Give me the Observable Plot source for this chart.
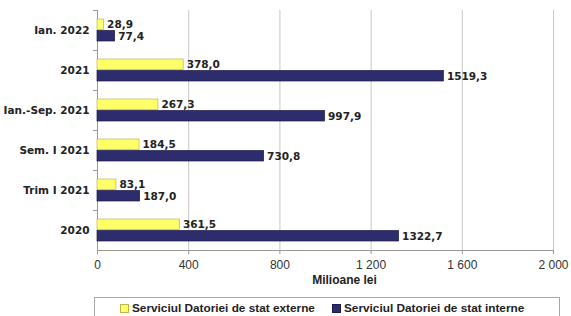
<!DOCTYPE html>
<html>
<head>
<meta charset="utf-8">
<script src="https://cdn.jsdelivr.net/npm/d3@7"></script>
<script src="https://cdn.jsdelivr.net/npm/@observablehq/plot@0.6"></script>
<style>
  body { margin: 0; background: #fff; font-family: "DejaVu Sans", sans-serif; }
  #wrap { position: relative; width: 571px; height: 316px; overflow: hidden; }
  #legend { position: absolute; left: 94px; top: 297px; width: 466px; height: 26px; border: 1px solid #a8a8a8; box-sizing: border-box; font: bold 11.8px "Liberation Sans", Arial, sans-serif; color: #222; }
  #legend .item { position: absolute; top: 3px; display: flex; align-items: center; white-space: nowrap; }
  #legend .sw { width: 7px; height: 7px; margin-right: 3px; display: inline-block; }
</style>
</head>
<body>
<div id="wrap">
  <div id="chart"></div>
  <div id="legend"></div>
</div>
<script>
const categories = ["Ian. 2022", "2021", "Ian.-Sep. 2021", "Sem. I 2021", "Trim I 2021", "2020"];
const externe = [28.9, 378.0, 267.3, 184.5, 83.1, 361.5];
const interne = [77.4, 1519.3, 997.9, 730.8, 187.0, 1322.7];
const seriesNames = ["Serviciul Datoriei de stat externe", "Serviciul Datoriei de stat interne"];
const seriesColors = ["#ffff6a", "#2d2c6c"];
const seriesStrokes = ["#b8b84a", "#1c1b4a"];
const xTicks = [0, 400, 800, 1200, 1600, 2000];

const ext = categories.map((c, i) => ({cat: c, v: externe[i]}));
const int = categories.map((c, i) => ({cat: c, v: interne[i]}));
const fmtVal = v => v.toFixed(1).replace(".", ",");
const fmtTick = v => v >= 1000 ? String(v).replace(/(\d)(\d{3})$/, "$1 $2") : String(v);

const chart = Plot.plot({
  width: 571,
  height: 292,
  marginLeft: 97,
  marginRight: 18,
  marginTop: 10,
  marginBottom: 42,
  style: {fontFamily: "DejaVu Sans, sans-serif", fontSize: "10px", color: "#222"},
  x: {domain: [0, 2000], ticks: xTicks, tickFormat: fmtTick},
  y: {domain: categories, paddingInner: 0.45, paddingOuter: 0.225},
  marks: [
    Plot.gridX(xTicks.filter(d => d > 0), {stroke: "#c8c8c8", strokeOpacity: 1}),
    Plot.axisX({ticks: xTicks, tickFormat: fmtTick, tickSize: 4, stroke: "#999", fontFamily: "Liberation Sans, sans-serif", fontSize: 12, fill: "#333", tickPadding: 6, label: null}),
    Plot.text(["Milioane lei"], {frameAnchor: "bottom", dx: 19, dy: 33, fontWeight: "bold", fontSize: 12, fontFamily: "Liberation Sans, sans-serif", fill: "#222"}),
    Plot.axisY({tickSize: 0, tickPadding: 8, fontWeight: "bold", fontSize: 10.5, fill: "#222", label: null}),
    Plot.axisY({tickSize: 4, tickFormat: () => "", dy: -20, stroke: "#999", label: null}),
    Plot.ruleY([categories[categories.length - 1]], {x1: 0, x2: 2000, dy: 20, stroke: "#999"}),
    Plot.ruleX([0], {stroke: "#999"}),
    Plot.barX(ext, {x: "v", y: "cat", insetBottom: 11.5, fill: seriesColors[0], stroke: seriesStrokes[0], strokeWidth: 0.7}),
    Plot.barX(int, {x: "v", y: "cat", insetTop: 11.5, fill: seriesColors[1], stroke: seriesStrokes[1], strokeWidth: 0.7}),
    Plot.text(ext, {x: "v", y: "cat", text: d => fmtVal(d.v), dy: -5.5, dx: 3, textAnchor: "start", fontWeight: "bold", fontSize: 10.5, fill: "#222"}),
    Plot.text(int, {x: "v", y: "cat", text: d => fmtVal(d.v), dy: 6, dx: 3, textAnchor: "start", fontWeight: "bold", fontSize: 10.5, fill: "#222"})
  ]
});
document.getElementById("chart").appendChild(chart);

const legend = document.getElementById("legend");
const lefts = [25, 237];
seriesNames.forEach((n, i) => {
  const it = document.createElement("div");
  it.className = "item";
  it.style.left = lefts[i] + "px";
  it.innerHTML = `<span class="sw" style="background:${seriesColors[i]};border:1px solid ${seriesStrokes[i]}"></span>${n}`;
  legend.appendChild(it);
});
</script>
</body>
</html>
